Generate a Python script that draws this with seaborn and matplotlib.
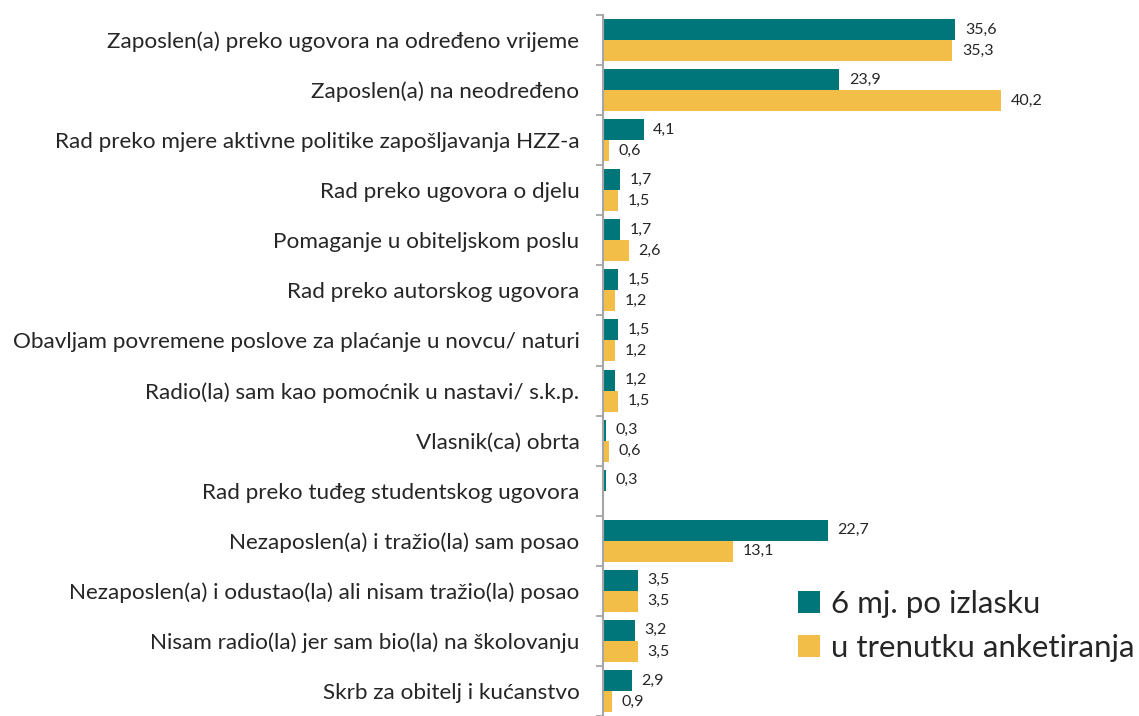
import matplotlib
matplotlib.use("Agg")
import matplotlib.pyplot as plt
import seaborn as sns
import pandas as pd
import numpy as np

categories = [
    "Zaposlen(a) preko ugovora na određeno vrijeme",
    "Zaposlen(a) na neodređeno",
    "Rad preko mjere aktivne politike zapošljavanja HZZ-a",
    "Rad preko ugovora o djelu",
    "Pomaganje u obiteljskom poslu",
    "Rad preko autorskog ugovora",
    "Obavljam povremene poslove za plaćanje u novcu/ naturi",
    "Radio(la) sam kao pomoćnik u nastavi/ s.k.p.",
    "Vlasnik(ca) obrta",
    "Rad preko tuđeg studentskog ugovora",
    "Nezaposlen(a) i tražio(la) sam posao",
    "Nezaposlen(a) i odustao(la) ali nisam tražio(la) posao",
    "Nisam radio(la) jer sam bio(la) na školovanju",
    "Skrb za obitelj i kućanstvo",
]
series_names = ["6 mj. po izlasku", "u trenutku anketiranja"]
six_months = [35.6, 23.9, 4.1, 1.7, 1.7, 1.5, 1.5, 1.2, 0.3, 0.3, 22.7, 3.5, 3.2, 2.9]
at_survey = [35.3, 40.2, 0.6, 1.5, 2.6, 1.2, 1.2, 1.5, 0.6, np.nan, 13.1, 3.5, 3.5, 0.9]

df = pd.DataFrame({"kategorija": categories,
                   series_names[0]: six_months,
                   series_names[1]: at_survey})
df = df.melt(id_vars="kategorija", var_name="serija", value_name="postotak")

sns.set_style("white")
plt.rcParams["font.family"] = ["Lato", "DejaVu Sans"]

fig = plt.figure(figsize=(11.39, 7.16), dpi=100)
ax = fig.add_axes([603 / 1139, 0.0, 1 - 603 / 1139, 1 - 15 / 716])

sns.barplot(data=df, y="kategorija", x="postotak", hue="serija", orient="h",
            order=categories, hue_order=series_names,
            palette=["#00767A", "#F2BE48"], width=0.84, saturation=1,
            linewidth=0, ax=ax)

for cont in ax.containers:
    labels = ["" if np.isnan(v) else f"{v:.1f}".replace(".", ",") for v in cont.datavalues]
    ax.bar_label(cont, labels=labels, padding=7, fontsize=11.5, color="#262626")

ax.set_xlim(0, (1139 - 603) / 9.89)
ax.set_ylim(len(categories) - 0.5, -0.5)
ax.set_xlabel("")
ax.set_ylabel("")
ax.set_xticks([])

ax.set_yticks(np.arange(-0.5, len(categories)), minor=True)
ax.tick_params(axis="y", which="minor", left=True, length=5, width=1.3, color="#A6A6A6")
ax.tick_params(axis="y", which="major", left=False, length=0, pad=17, labelsize=16.2,
               labelcolor="#262626")

for side in ["top", "right", "bottom"]:
    ax.spines[side].set_visible(False)
ax.spines["left"].set_color("#A6A6A6")
ax.spines["left"].set_linewidth(1.5)

handles, labels = ax.get_legend_handles_labels()
ax.legend_.remove()
fig.legend(handles, labels, loc="upper left", bbox_to_anchor=(770 / 1139, 1 - 562 / 716),
           frameon=False, fontsize=22.5, handlelength=0.7, handleheight=0.7,
           handletextpad=0.35, labelspacing=0.5, labelcolor="#262626")

fig.savefig("out.png", dpi=100)
